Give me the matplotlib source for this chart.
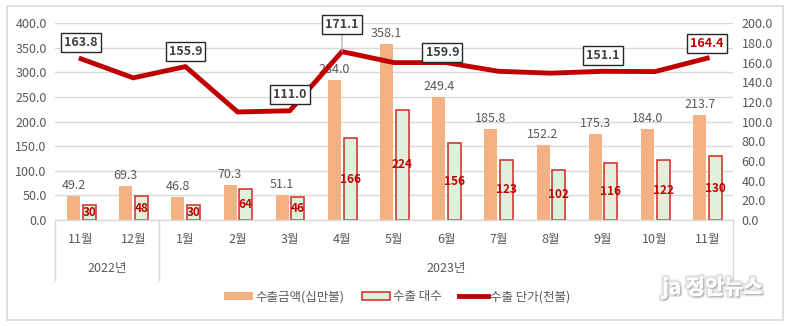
import numpy as np
import matplotlib
matplotlib.use("Agg")
import matplotlib.pyplot as plt
import matplotlib.patheffects as pe
from matplotlib.patches import Patch, Rectangle
from matplotlib.lines import Line2D

plt.rcParams['font.family'] = ['Noto Sans CJK KR', 'DejaVu Sans']

months = ['11월', '12월', '1월', '2월', '3월', '4월', '5월', '6월',
          '7월', '8월', '9월', '10월', '11월']
years = ['2022년', '2023년']
amount = [49.2, 69.3, 46.8, 70.3, 51.1, 284.0, 358.1, 249.4,
          185.8, 152.2, 175.3, 184.0, 213.7]      # 수출금액(십만불)
units = [30, 48, 30, 64, 46, 166, 224, 156, 123, 102, 116, 122, 130]  # 수출 대수
price = [163.8, 144.4, 155.9, 109.8, 111.0, 171.1, 159.9, 159.9,
         151.1, 149.2, 151.1, 150.8, 164.4]       # 수출 단가(천불)
price_labels = {0: 163.8, 2: 155.9, 4: 111.0, 5: 171.1, 7: 159.9, 10: 151.1, 12: 164.4}

ORANGE = '#F4B183'
GREEN = '#E2EFDA'
RED = '#C00000'
GRID = '#D9D9D9'
TXT = '#595959'
FS = 9

fig = plt.figure(figsize=(7.9, 3.26), dpi=100)
ax = fig.add_axes([0.0696, 0.325, 0.8586, 0.604])
ax2 = ax.twinx()

x = np.arange(len(months))
w = 0.25
ax.bar(x - 0.145, amount, w, color=ORANGE, zorder=2)
ax.bar(x + 0.155, units, w, color=GREEN, edgecolor='#D02828', linewidth=1.1, zorder=2)

for xi, v in zip(x, amount):
    ax.annotate(f'{v:.1f}', (xi - 0.145, v), xytext=(0, 4), textcoords='offset pixels',
                ha='center', va='bottom', fontsize=FS, color=TXT)
for xi, v in zip(x, units):
    ax.text(xi + 0.155, v / 2, f'{v}', ha='center', va='center', fontsize=8.5,
            color=RED, fontweight='bold', zorder=3)

ax.set_xlim(-0.5, len(months) - 0.5)
ax.set_ylim(0, 400)
ax.set_yticks(np.arange(0, 401, 50))
ax.set_yticklabels([f'{t:.1f}' for t in np.arange(0, 401, 50)])
ax.grid(axis='y', color=GRID, linewidth=1, zorder=0)
ax.set_axisbelow(True)

ax2.plot(x, price, color=RED, linewidth=3.5, zorder=4, solid_joinstyle='round')
ax2.set_ylim(0, 200)
ax2.set_yticks(np.arange(0, 201, 20))
ax2.set_yticklabels([f'{t:.1f}' for t in np.arange(0, 201, 20)])

offsets = {0: (0, 16), 2: (0, 15), 4: (0, 16), 5: (0, 27), 7: (-4, 10), 10: (0, 16), 12: (0, 15)}
for i, v in price_labels.items():
    kw = {}
    if i == 5:
        kw['arrowprops'] = dict(arrowstyle='-', color='#A6A6A6', lw=0.8, shrinkA=0, shrinkB=0)
    ax2.annotate(f'{v:.1f}', (x[i], price[i]), xytext=offsets[i], textcoords='offset pixels',
                 ha='center', va='center', fontsize=FS, fontweight='bold',
                 color=RED if i == 12 else '#404040',
                 bbox=dict(boxstyle='square,pad=0.25', fc='white', ec='#262626', lw=1.0),
                 zorder=5, **kw)

for a in (ax, ax2):
    for s in a.spines.values():
        s.set_visible(False)
    a.tick_params(length=0, labelsize=FS, labelcolor=TXT)
ax.tick_params(axis='y', pad=6)
ax2.tick_params(axis='y', pad=6)
ax.set_xticks([])

# two-level category axis
trans = ax.get_xaxis_transform()
ax.plot([-0.5, 12.5], [0, 0], color=GRID, lw=1, transform=trans, clip_on=False)
for xs in (-0.5, 1.5, 12.5):
    ax.plot([xs, xs], [0, -0.305], color=GRID, lw=1, transform=trans, clip_on=False)
for xi, m in zip(x, months):
    ax.text(xi, -0.10, m, ha='center', va='center', fontsize=FS, color=TXT, transform=trans)
ax.text(0.5, -0.245, years[0], ha='center', va='center', fontsize=FS, color=TXT, transform=trans)
ax.text(7, -0.245, years[1], ha='center', va='center', fontsize=FS, color=TXT, transform=trans)

handles = [Patch(facecolor=ORANGE, edgecolor='none'),
           Patch(facecolor=GREEN, edgecolor='#D02828', linewidth=1.1),
           Line2D([0], [0], color=RED, linewidth=3.5)]
fig.legend(handles, ['수출금액(십만불)', '수출 대수', '수출 단가(천불)'],
           loc='center', bbox_to_anchor=(0.503, 0.089), ncol=3, frameon=False,
           fontsize=FS, labelcolor=TXT, handlelength=2.3, handleheight=0.6,
           handletextpad=0.2, columnspacing=1.4)

# chart frame
fig.patches.append(Rectangle((0.009, 0.018), 0.982, 0.963, transform=fig.transFigure,
                             fill=False, edgecolor=GRID, linewidth=1.2))

fig.text(0.965, 0.118, 'ja 정안뉴스', ha='right', va='center', fontsize=15,
         fontweight='bold', color='white',
         path_effects=[pe.withStroke(linewidth=4, foreground='#c8c8c8', alpha=0.5),
                       pe.withSimplePatchShadow(offset=(1, -1), shadow_rgbFace='#8a8a8a', alpha=0.5),
                       pe.Normal()])

fig.savefig('out.png', dpi=100)
